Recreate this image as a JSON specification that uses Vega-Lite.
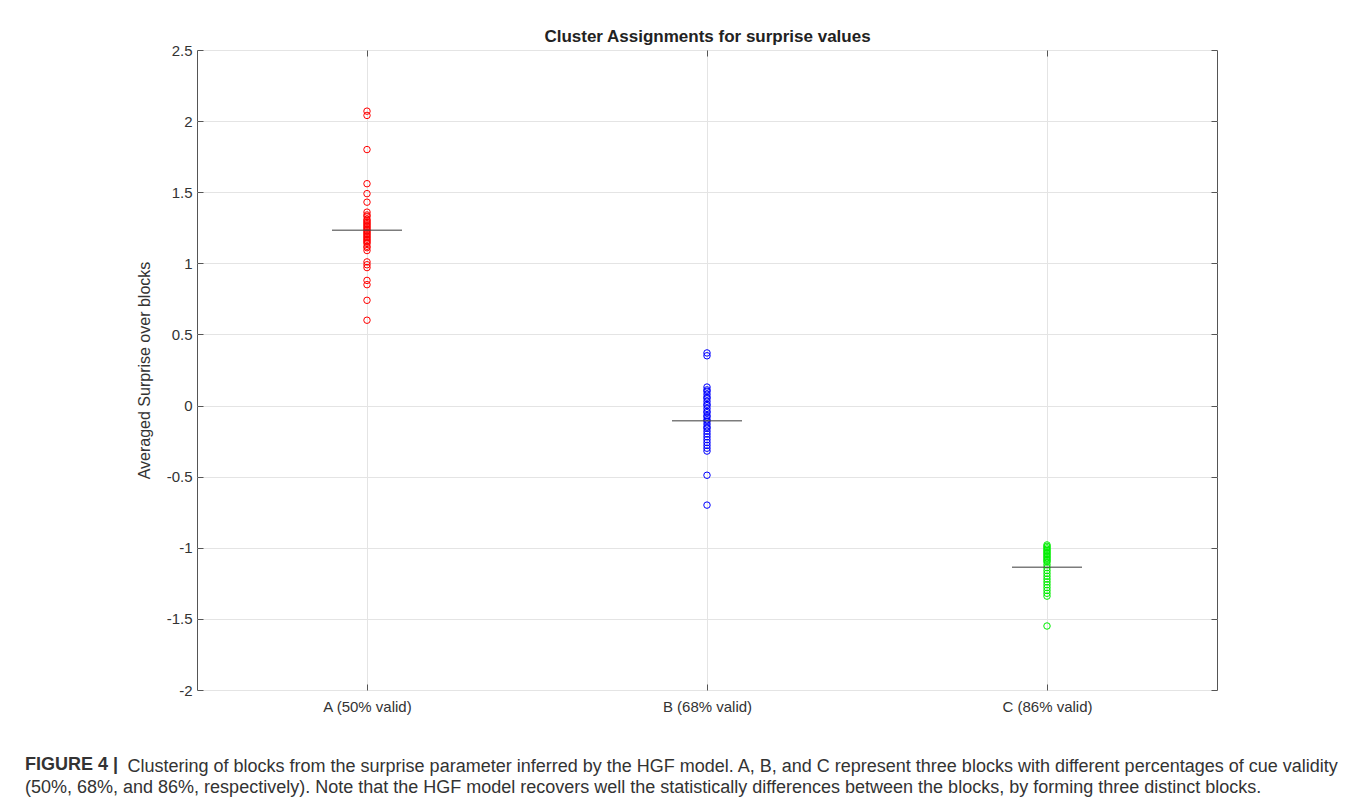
{
  "$schema": "https://vega.github.io/schema/vega-lite/v6.json",
  "width": 1020,
  "height": 640,
  "autosize": {"type": "none"},
  "padding": {"left": 197, "top": 50, "right": 140, "bottom": 112},
  "background": "white",
  "config": {
    "font": "Liberation Sans",
    "view": {"stroke": "#555555", "strokeWidth": 1},
    "axis": {"labelFont": "Liberation Sans", "titleFont": "Liberation Sans", "labelColor": "#333333", "titleColor": "#333333", "domainColor": "#555555", "tickColor": "#555555", "gridColor": "#e4e4e4"}
  },
  "title": {
    "text": "FIGURE 4 |",
    "subtitle": "(50%, 68%, and 86%, respectively). Note that the HGF model recovers well the statistically differences between the blocks, by forming three distinct blocks.",
    "orient": "bottom",
    "anchor": "start",
    "frame": "group",
    "dx": -172,
    "offset": -19,
    "font": "Liberation Sans",
    "fontSize": 18,
    "fontWeight": "bold",
    "color": "#333333",
    "subtitleFont": "Liberation Sans",
    "subtitleFontSize": 18,
    "subtitleColor": "#333333",
    "subtitlePadding": 5
  },
  "datasets": {
    "points": [
      {"block": "A (50% valid)", "surprise": 2.07},
      {"block": "A (50% valid)", "surprise": 2.04},
      {"block": "A (50% valid)", "surprise": 1.80},
      {"block": "A (50% valid)", "surprise": 1.56},
      {"block": "A (50% valid)", "surprise": 1.49},
      {"block": "A (50% valid)", "surprise": 1.43},
      {"block": "A (50% valid)", "surprise": 1.36},
      {"block": "A (50% valid)", "surprise": 1.34},
      {"block": "A (50% valid)", "surprise": 1.33},
      {"block": "A (50% valid)", "surprise": 1.31},
      {"block": "A (50% valid)", "surprise": 1.30},
      {"block": "A (50% valid)", "surprise": 1.29},
      {"block": "A (50% valid)", "surprise": 1.28},
      {"block": "A (50% valid)", "surprise": 1.27},
      {"block": "A (50% valid)", "surprise": 1.26},
      {"block": "A (50% valid)", "surprise": 1.25},
      {"block": "A (50% valid)", "surprise": 1.24},
      {"block": "A (50% valid)", "surprise": 1.23},
      {"block": "A (50% valid)", "surprise": 1.22},
      {"block": "A (50% valid)", "surprise": 1.21},
      {"block": "A (50% valid)", "surprise": 1.20},
      {"block": "A (50% valid)", "surprise": 1.19},
      {"block": "A (50% valid)", "surprise": 1.18},
      {"block": "A (50% valid)", "surprise": 1.17},
      {"block": "A (50% valid)", "surprise": 1.16},
      {"block": "A (50% valid)", "surprise": 1.15},
      {"block": "A (50% valid)", "surprise": 1.14},
      {"block": "A (50% valid)", "surprise": 1.12},
      {"block": "A (50% valid)", "surprise": 1.11},
      {"block": "A (50% valid)", "surprise": 1.09},
      {"block": "A (50% valid)", "surprise": 1.01},
      {"block": "A (50% valid)", "surprise": 0.99},
      {"block": "A (50% valid)", "surprise": 0.97},
      {"block": "A (50% valid)", "surprise": 0.88},
      {"block": "A (50% valid)", "surprise": 0.85},
      {"block": "A (50% valid)", "surprise": 0.74},
      {"block": "A (50% valid)", "surprise": 0.60},
      {"block": "B (68% valid)", "surprise": 0.37},
      {"block": "B (68% valid)", "surprise": 0.35},
      {"block": "B (68% valid)", "surprise": 0.13},
      {"block": "B (68% valid)", "surprise": 0.11},
      {"block": "B (68% valid)", "surprise": 0.10},
      {"block": "B (68% valid)", "surprise": 0.08},
      {"block": "B (68% valid)", "surprise": 0.06},
      {"block": "B (68% valid)", "surprise": 0.05},
      {"block": "B (68% valid)", "surprise": 0.03},
      {"block": "B (68% valid)", "surprise": 0.01},
      {"block": "B (68% valid)", "surprise": 0.00},
      {"block": "B (68% valid)", "surprise": -0.02},
      {"block": "B (68% valid)", "surprise": -0.04},
      {"block": "B (68% valid)", "surprise": -0.05},
      {"block": "B (68% valid)", "surprise": -0.07},
      {"block": "B (68% valid)", "surprise": -0.08},
      {"block": "B (68% valid)", "surprise": -0.10},
      {"block": "B (68% valid)", "surprise": -0.11},
      {"block": "B (68% valid)", "surprise": -0.13},
      {"block": "B (68% valid)", "surprise": -0.15},
      {"block": "B (68% valid)", "surprise": -0.16},
      {"block": "B (68% valid)", "surprise": -0.18},
      {"block": "B (68% valid)", "surprise": -0.20},
      {"block": "B (68% valid)", "surprise": -0.22},
      {"block": "B (68% valid)", "surprise": -0.24},
      {"block": "B (68% valid)", "surprise": -0.26},
      {"block": "B (68% valid)", "surprise": -0.28},
      {"block": "B (68% valid)", "surprise": -0.30},
      {"block": "B (68% valid)", "surprise": -0.32},
      {"block": "B (68% valid)", "surprise": -0.49},
      {"block": "B (68% valid)", "surprise": -0.70},
      {"block": "C (86% valid)", "surprise": -0.98},
      {"block": "C (86% valid)", "surprise": -0.99},
      {"block": "C (86% valid)", "surprise": -1.00},
      {"block": "C (86% valid)", "surprise": -1.01},
      {"block": "C (86% valid)", "surprise": -1.02},
      {"block": "C (86% valid)", "surprise": -1.03},
      {"block": "C (86% valid)", "surprise": -1.04},
      {"block": "C (86% valid)", "surprise": -1.05},
      {"block": "C (86% valid)", "surprise": -1.06},
      {"block": "C (86% valid)", "surprise": -1.07},
      {"block": "C (86% valid)", "surprise": -1.08},
      {"block": "C (86% valid)", "surprise": -1.09},
      {"block": "C (86% valid)", "surprise": -1.10},
      {"block": "C (86% valid)", "surprise": -1.12},
      {"block": "C (86% valid)", "surprise": -1.14},
      {"block": "C (86% valid)", "surprise": -1.16},
      {"block": "C (86% valid)", "surprise": -1.18},
      {"block": "C (86% valid)", "surprise": -1.20},
      {"block": "C (86% valid)", "surprise": -1.22},
      {"block": "C (86% valid)", "surprise": -1.24},
      {"block": "C (86% valid)", "surprise": -1.26},
      {"block": "C (86% valid)", "surprise": -1.28},
      {"block": "C (86% valid)", "surprise": -1.30},
      {"block": "C (86% valid)", "surprise": -1.32},
      {"block": "C (86% valid)", "surprise": -1.34},
      {"block": "C (86% valid)", "surprise": -1.55}
    ],
    "means": [
      {"block": "A (50% valid)", "surprise": 1.233},
      {"block": "B (68% valid)", "surprise": -0.106},
      {"block": "C (86% valid)", "surprise": -1.137}
    ]
  },
  "layer": [
    {
      "data": {"name": "points"},
      "mark": {"type": "point", "shape": "circle", "filled": false, "size": 42, "strokeWidth": 1, "opacity": 1},
      "encoding": {
        "x": {
          "field": "block", "type": "nominal",
          "scale": {"type": "point", "padding": 0.5},
          "axis": {
            "orient": "bottom", "offset": -6, "labelAngle": 0, "labelFontSize": 15, "labelPadding": 9,
            "tickSize": 6, "grid": true, "domain": false,
            "title": "Clustering of blocks from the surprise parameter inferred by the HGF model. A, B, and C represent three blocks with different percentages of cue validity",
            "titleFontSize": 18, "titleFontWeight": "normal", "titleAlign": "left", "titleAnchor": "start",
            "titleX": -70, "titleY": 87, "titleBaseline": "alphabetic"
          }
        },
        "y": {
          "field": "surprise", "type": "quantitative",
          "scale": {"domain": [-2, 2.5], "nice": false, "zero": false},
          "axis": {
            "orient": "left", "offset": -6, "values": [-2, -1.5, -1, -0.5, 0, 0.5, 1, 1.5, 2, 2.5],
            "labelExpr": "datum.value + ''", "labelFontSize": 15, "labelPadding": 5,
            "tickSize": 6, "grid": true, "domain": false,
            "title": "Averaged Surprise over blocks", "titleFontSize": 16, "titleFontWeight": "normal", "titlePadding": 14
          }
        },
        "color": {
          "field": "block", "type": "nominal",
          "scale": {"domain": ["A (50% valid)", "B (68% valid)", "C (86% valid)"], "range": ["#ff0000", "#0000ff", "#00ee00"]},
          "legend": null
        }
      }
    },
    {
      "data": {"name": "means"},
      "mark": {"type": "tick", "size": 70, "thickness": 1.5, "color": "#444444"},
      "encoding": {
        "x": {
          "field": "block", "type": "nominal",
          "scale": {"type": "point", "padding": 0.5},
          "axis": {
            "orient": "top", "offset": -6, "labels": false, "tickSize": 6, "grid": false, "domain": false,
            "title": "Cluster Assignments for surprise values", "titleFontSize": 17, "titleFontWeight": "bold",
            "titleColor": "#222222", "titlePadding": 4
          }
        },
        "y": {
          "field": "surprise", "type": "quantitative",
          "scale": {"domain": [-2, 2.5], "nice": false, "zero": false},
          "axis": {
            "orient": "right", "offset": -6, "values": [-2, -1.5, -1, -0.5, 0, 0.5, 1, 1.5, 2, 2.5],
            "labels": false, "tickSize": 6, "grid": false, "domain": false, "title": null
          }
        }
      }
    }
  ],
  "resolve": {"axis": {"x": "independent", "y": "independent"}}
}
